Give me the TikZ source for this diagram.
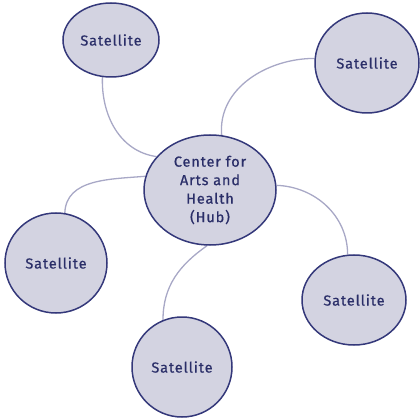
\documentclass[tikz,border=0pt]{standalone}
\usepackage{fontspec}
\newfontfamily\blobfont[LetterSpace=6,BoldFont={Fira Sans},BoldFeatures={FakeBold=0.7}]{Fira Sans}
\usetikzlibrary{shapes.geometric,backgrounds}
\definecolor{blobfill}{RGB}{211,211,225}
\definecolor{blobline}{RGB}{52,56,122}
\definecolor{blobtext}{RGB}{42,46,104}
\definecolor{linkline}{RGB}{168,168,198}

\begin{document}
\begin{tikzpicture}[x=1pt,y=1pt,
  blob/.style={ellipse,draw=blobline,fill=blobfill,line width=1.5pt,
    inner sep=0pt,text=blobtext,font=\blobfont\bfseries\fontsize{14.5}{18.5}\selectfont,align=center},
  link/.style={draw=linkline,line width=1.3pt}]
\useasboundingbox (0,0) rectangle (420,418);

%Hub
\node[blob,minimum width=132,minimum height=110] (hub) at (210,228)
  {Center for\\Arts and\\Health\\(Hub)};

%Satellites
\node[blob,minimum width=96,minimum height=74] (sattl) at (111,378) {Satellite};
\node[blob,minimum width=104,minimum height=100] (sattr) at (367,355) {Satellite};
\node[blob,minimum width=102,minimum height=100] (satl) at (56,155) {Satellite};
\node[blob,minimum width=104,minimum height=90] (satbr) at (354,118) {Satellite};
\node[blob,minimum width=100,minimum height=100] (satb) at (182,51) {Satellite};

%Links
\begin{scope}[on background layer]
\draw[link] (sattl.257) to[out=268,in=172] (hub.148);
\draw[link] (sattr.175) to[out=180,in=95] (hub.78);
\draw[link] (satl.80) to[out=88,in=185] (hub.168);
\draw[link] (hub.4) to[out=-2,in=90] (satbr.98);
\draw[link] (hub.267) to[out=215,in=90] (satb.112);
\end{scope}

\end{tikzpicture}
\end{document}
